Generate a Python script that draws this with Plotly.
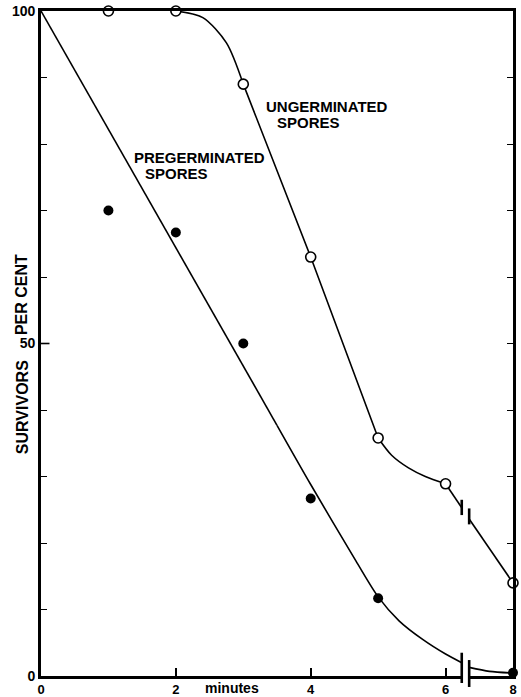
import plotly.graph_objects as go

# ---------------- data ----------------
minutes_ung = [1, 2, 3, 4, 5, 6, 8]
survivors_ung = [100, 100, 89, 63, 35.8, 28.9, 14]

minutes_pre = [1, 2, 3, 4, 5, 8]
survivors_pre = [70, 66.7, 50, 26.7, 11.7, 0.5]

# hand-drawn fitted curves
ung_c1_x = [2, 2.4, 2.75, 3]
ung_c1_y = [100, 99.0, 95.2, 89]
ung_s1_x = [3, 4, 5]
ung_s1_y = [89, 63, 35.8]
ung_c2_x = [5, 5.2, 5.45, 5.7, 6]
ung_c2_y = [35.8, 33.2, 31.3, 30.0, 28.9]
ung_s2_x = [6, 6.24]
ung_s2_y = [28.9, 25.3]
ung_s3_x = [7.35, 8]
ung_s3_y = [23.6, 14]

pre_s1_x = [0, 3.5]
pre_s1_y = [100, 37.7]
pre_c1_x = [3.5, 4, 4.67, 5, 5.31, 5.66, 6, 6.24]
pre_c1_y = [37.7, 28.8, 17.3, 11.9, 8.3, 5.5, 3.3, 2.0]
pre_c2_x = [7.35, 7.65, 8]
pre_c2_y = [1.3, 0.7, 0.45]

x_ticks = [0, 2, 4, 6, 8]
x_ticktext = ["0", "2", "4", "6", "8"]
y_ticks = list(range(0, 101, 10))
y_ticktext = ["0", "", "", "", "", "50", "", "", "", "", "100"]

# curve labels: (text, minutes, survivors) -- left edge / vertical centre
labels = [
    ("UNGERMINATED", 3.32, 85.7),
    ("SPORES", 3.485, 83.2),
    ("PREGERMINATED", 1.364, 78.0),
    ("SPORES", 1.527, 75.6),
]

BREAK_LO, BREAK_HI = 6.24, 7.35   # minutes hidden by the axis break


def pos(m):
    """axis-break transform: minutes -> display position"""
    return m if m <= BREAK_LO + 0.01 else m - 1.0


def P(lst):
    return [pos(v) for v in lst]


FONT = "Liberation Sans"
fig = go.Figure()

line = dict(color="black", width=1.6)
for xs, ys, shp in [
    (ung_c1_x, ung_c1_y, "spline"),
    (ung_s1_x, ung_s1_y, "linear"),
    (ung_c2_x, ung_c2_y, "spline"),
    (ung_s2_x, ung_s2_y, "linear"),
    (ung_s3_x, ung_s3_y, "linear"),
    (pre_s1_x, pre_s1_y, "linear"),
    (pre_c1_x, pre_c1_y, "spline"),
    (pre_c2_x, pre_c2_y, "spline"),
]:
    fig.add_trace(go.Scatter(x=P(xs), y=ys, mode="lines",
                             line=dict(line, shape=shp, smoothing=0.8),
                             hoverinfo="skip", showlegend=False, cliponaxis=False))

fig.add_trace(go.Scatter(x=P(minutes_pre), y=survivors_pre, mode="markers",
                         marker=dict(size=10, color="black"),
                         showlegend=False, cliponaxis=False))
fig.add_trace(go.Scatter(x=P(minutes_ung), y=survivors_ung, mode="markers",
                         marker=dict(size=10, color="white",
                                     line=dict(color="black", width=1.6)),
                         showlegend=False, cliponaxis=False))

# axis-break marks
bl, bh = pos(BREAK_LO), pos(BREAK_HI)
shapes = [
    dict(type="rect", xref="x", yref="paper", x0=bl + 0.01, x1=bh - 0.01,
         y0=-0.006, y1=0.006, fillcolor="white", line=dict(width=0), layer="above"),
    dict(type="line", xref="x", yref="paper", x0=bl, x1=bl, y0=-0.0105, y1=0.035,
         line=dict(color="black", width=2.6), layer="above"),
    dict(type="line", xref="x", yref="paper", x0=bh, x1=bh, y0=-0.0165, y1=0.024,
         line=dict(color="black", width=2.6), layer="above"),
    dict(type="line", xref="x", yref="y", x0=bl, x1=bl,
         y0=ung_s2_y[-1] - 1.1, y1=ung_s2_y[-1] + 1.2,
         line=dict(color="black", width=2.6), layer="above"),
    dict(type="line", xref="x", yref="y", x0=bh, x1=bh,
         y0=ung_s3_y[0] - 0.8, y1=ung_s3_y[0] + 1.6,
         line=dict(color="black", width=2.6), layer="above"),
    dict(type="line", xref="paper", yref="y", x0=0, x1=0.018, y0=50, y1=50,
         line=dict(color="black", width=1.6), layer="above"),
]

annotations = [
    dict(text=f"<b>{t}</b>", x=pos(mx), y=sy, xanchor="left", yanchor="middle",
         showarrow=False, borderpad=0,
         font=dict(family=FONT, size=15, color="black"))
    for t, mx, sy in labels
]
annotations += [
    dict(text="<b>minutes</b>", x=pos(2.83), y=0, yref="y", xanchor="center",
         yanchor="top", yshift=-2, showarrow=False,
         font=dict(family=FONT, size=14, color="black")),
    dict(text="<b>SURVIVORS</b>", x=-0.040, xref="paper", y=0.4045, yref="paper",
         textangle=-90, showarrow=False, xanchor="center", yanchor="middle",
         font=dict(family=FONT, size=16, color="black")),
    dict(text="<b>PER CENT</b>", x=-0.040, xref="paper", y=0.573, yref="paper",
         textangle=-90, showarrow=False, xanchor="center", yanchor="middle",
         font=dict(family=FONT, size=16, color="black")),
]

fig.update_layout(
    width=521, height=697,
    margin=dict(l=41, r=8, t=11, b=21, autoexpand=False),
    paper_bgcolor="white", plot_bgcolor="white",
    showlegend=False,
    shapes=shapes,
    annotations=annotations,
    xaxis=dict(range=[0, pos(8)], tickvals=P(x_ticks), ticktext=[f"<b>{t}</b>" for t in x_ticktext],
               ticks="inside", ticklen=8, tickwidth=1.6, tickcolor="black",
               showline=True, linecolor="black", linewidth=2.6, mirror=True,
               showgrid=False, zeroline=False, automargin=False,
               tickfont=dict(family=FONT, size=13, color="black")),
    yaxis=dict(range=[0, 100], tickvals=y_ticks, ticktext=[f"<b>{t}</b>" for t in y_ticktext],
               ticks="inside", ticklen=6, tickwidth=1.4, tickcolor="black",
               showline=True, linecolor="black", linewidth=2.6, mirror="allticks",
               showgrid=False, zeroline=False, automargin=False,
               tickfont=dict(family=FONT, size=14, color="black")),
)

fig.write_html("out.html")
